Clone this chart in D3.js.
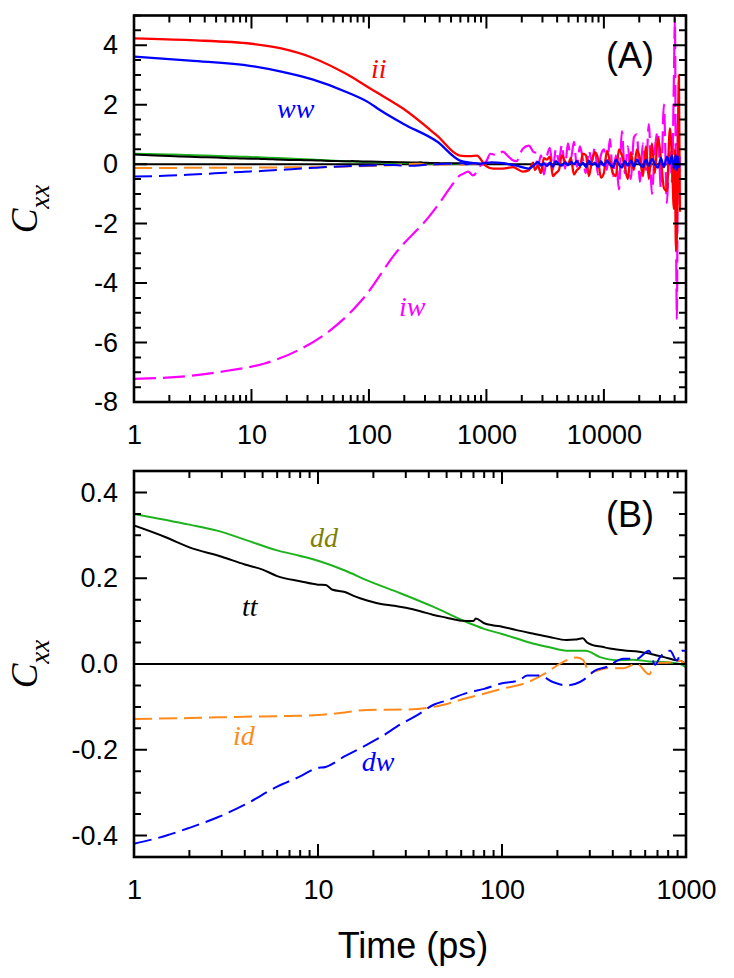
<!DOCTYPE html>
<html><head><meta charset="utf-8">
<script src="https://cdn.jsdelivr.net/npm/d3@7"></script>
<style>body{margin:0;background:#fff}</style>
</head><body>
<svg id="c" width="734" height="978"></svg>
<script>
// ---------------- DATA ----------------
const ttT = [1,1.5,2,3,4,5,6,8,10,11,12,14,16,18.5,22,26,30,36,42,50,60,70,72,80,90,100,120,147,181,224,250,275,290,311,350,385,430,476,530,584,640,695,760,853,950,1000];
const ttV = [0.323,0.295,0.272,0.250,0.232,0.220,0.205,0.193,0.185,0.184,0.173,0.168,0.157,0.148,0.140,0.136,0.131,0.123,0.115,0.108,0.101,0.100,0.106,0.095,0.090,0.087,0.079,0.071,0.063,0.056,0.057,0.060,0.050,0.044,0.040,0.036,0.033,0.031,0.030,0.027,0.024,0.020,0.016,0.010,0.006,-0.002];
const ddT = [1,2,2.83,4,6,8,9.8,14,18.5,28,42.5,64,80,100,147,181,224,285,341,420,515,630,790,930,1000];
const ddV = [0.350,0.325,0.311,0.290,0.265,0.252,0.242,0.218,0.195,0.165,0.133,0.098,0.082,0.070,0.048,0.039,0.031,0.031,0.016,0.009,0.010,0.006,0.004,0.000,-0.008];
const idT = [1,2,4,7,10,14,18.5,30,42.5,64,100,137,175,207,254,275,300,370,457,540,630,680,720,790,930,1000];
const idV = [-0.128,-0.126,-0.123,-0.121,-0.119,-0.113,-0.107,-0.106,-0.100,-0.080,-0.058,-0.043,-0.020,0.001,0.015,0.010,-0.020,-0.010,-0.010,0.001,-0.024,0.001,0.003,0.003,0.007,-0.002];
const dwT = [1,1.5,2,2.83,4,6,8,9.8,11,14,18.5,22,28,35,42.5,50,64,80,100,124,137,160,189,224,265,290,318,370,457,540,630,680,720,820,890,950,1000];
const dwV = [-0.419,-0.400,-0.382,-0.358,-0.328,-0.286,-0.262,-0.243,-0.240,-0.215,-0.188,-0.170,-0.141,-0.118,-0.095,-0.085,-0.068,-0.058,-0.045,-0.038,-0.027,-0.027,-0.042,-0.050,-0.042,-0.031,-0.016,-0.007,0.012,0.012,0.031,-0.002,0.015,0.031,0.008,0.031,0.031];

const iiT = [1,3,10,17.5,33,65,100,124,195,380,595,726,830,980,1140,1380,1680,2040,2300,2500];
const iiV = [4.23,4.17,4.05,3.90,3.58,3.02,2.57,2.35,1.87,0.96,0.29,0.27,0.29,-0.05,-0.15,-0.15,-0.10,-0.25,-0.20,0.05];
const wwT = [1,3,10,17.5,33,65,100,124,195,380,595,726,900,1100,1400,1800,2300];
const wwV = [3.62,3.48,3.30,3.12,2.85,2.42,2.07,1.82,1.36,0.76,0.12,0.05,0.02,0.06,0.03,-0.05,-0.15];
const iwT = [1,3,6.2,12.5,24.4,46.5,89,172,330,425,490,595,630,700,770,890,1000,1080,1230,1380,1500,1650,1800,2040,2300,2550];
const iwV = [-7.22,-7.12,-6.95,-6.72,-6.28,-5.60,-4.53,-2.95,-1.73,-1.15,-0.80,-0.38,-0.33,-0.25,-0.38,-0.05,0.10,0.35,0.30,0.42,0.30,0.15,0.10,0.52,0.62,0.40];

const noiseT = [2590,2743,2910,3085,3270,3470,3680,3900,4140,4390,4660,4940,5240,5560,5890,6250,6630,7030,7450,7910,8380,8890,9430,10000,10600,11250,11930,12650,13420,14230,15090,16010,16980,18000,19100,20250,21480,22780,24160,25620,27170,28820,30570,32420,34380,36460,37920,39440,40220,41020,41830,42660,43510,44370];
const iiNoise = [-0.2,-0.05,-0.3,0.2,0.15,0.25,-0.4,-0.3,-0.2,0.3,0.1,0.0,0.2,-0.35,-0.2,-0.1,0.35,0.3,-0.4,0.1,0.4,0.2,-0.45,-0.3,0.45,0.1,-0.3,-0.4,0.5,0.3,-0.1,-0.5,0.4,-0.2,0.5,0.2,-0.4,0.6,-0.5,0.7,-0.3,0.9,0.2,-0.8,-0.9,1.2,0.2,-1.5,0.5,-2.9,-2.4,0.8,3.0,-1.6];
const wwNoise = [0.0,0.08,-0.05,0.03,-0.06,0.05,-0.08,0.1,0.0,-0.05,0.06,-0.04,0.08,0.0,0.1,-0.05,0.05,-0.1,0.12,-0.03,0.05,-0.1,0.1,-0.05,0.12,0.0,-0.1,0.15,0.0,-0.12,0.1,-0.05,0.12,-0.08,0.15,0.0,-0.1,0.15,-0.05,0.18,0.0,-0.12,0.2,-0.1,0.25,0.0,0.3,-0.15,0.1,0.3,-0.2,0.25,-0.1,0.05];
const iwNoise = [0.4,-0.1,0.3,-0.35,0.25,0.55,-0.2,0.5,0.1,0.65,-0.15,0.7,0.2,0.75,-0.1,0.6,0.15,-0.3,0.45,0.1,0.55,-0.35,0.3,0.5,-0.2,0.85,-0.4,0.3,-0.85,1.1,-0.3,0.6,-0.5,0.9,1.0,-0.6,0.7,-0.2,1.35,-1.0,0.5,1.1,-0.8,2.0,-1.3,1.0,-0.6,2.9,4.9,-1.5,-5.2,1.5,-0.5,0.3];

const xTicksA = [1,10,100,1000,10000];
const yTicksA = [-8,-6,-4,-2,0,2,4];
const xTicksB = [1,10,100,1000];
const yTicksB = [-0.4,-0.2,0,0.2,0.4];

const labelsA = [
  {text:"ii", t:104, v:2.9, color:"#ff0000"},
  {text:"ww", t:16.5, v:1.55, color:"#0000ff"},
  {text:"iw", t:180, v:-5.1, color:"#ff00ff"}
];
const labelsB = [
  {text:"dd", t:9.05, v:0.273, color:"#808000"},
  {text:"tt", t:3.86, v:0.112, color:"#000000"},
  {text:"id", t:3.45, v:-0.189, color:"#ff8a1c"},
  {text:"dw", t:17.3, v:-0.249, color:"#0000ff"}
];

// ---------------- DRAW ----------------
const svg = d3.select("#c");
const C = {red:"#ff0000", blue:"#0000ff", mag:"#ff00ff", green:"#1db31d", orange:"#ff8a1c", black:"#000000"};
const DASH = "18,7";

const xA = d3.scaleLog().domain([1,50000]).range([134,686]);
const yA = d3.scaleLinear().domain([-8,5]).range([402,15.5]);
const xB = d3.scaleLog().domain([1,1000]).range([134,686]);
const yB = d3.scaleLinear().domain([-0.45,0.45]).range([857,471]);

function zipTV(T,V){ return T.map((t,i)=>[t,V[i]]); }
function minorLog(sc){
  const dom = sc.domain(); const out=[];
  for(let d=dom[0]; d<dom[1]; d*=10) for(let k=2;k<=9;k++){ const v=d*k; if(v<=dom[1]*1.0001) out.push(v); }
  return out;
}

const tickLayer = [];

function panel(id, xs, ys, series, xMajor, yMajor, yMinorStep, yFmt){
  const xr = xs.range(), yr = ys.range();
  const L = xr[0], R = xr[1], B = yr[0], T = yr[1];
  const g = svg.append("g");
  const defs = svg.append("defs");
  defs.append("clipPath").attr("id","clip"+id).append("rect")
    .attr("x",L).attr("y",T).attr("width",R-L).attr("height",B-T);
  const plot = g.append("g").attr("clip-path",`url(#clip${id})`);
  plot.append("line").attr("x1",L).attr("x2",R).attr("y1",ys(0)).attr("y2",ys(0))
    .attr("stroke","#000").attr("stroke-width",2);
  const lineGen = d3.line().x(d=>xs(d[0])).y(d=>ys(d[1])).curve(d3.curveMonotoneX);
  series.forEach(s=>{
    plot.append("path").attr("d",lineGen(s.data)).attr("fill","none")
      .attr("stroke",s.color).attr("stroke-width",s.w||2)
      .attr("stroke-dasharray",s.dash||null).attr("stroke-linejoin","round");
  });
  const xMinor = minorLog(xs);
  const yd = ys.domain();
  const yMinor = d3.range(Math.ceil(yd[0]/yMinorStep-1e-9), Math.floor(yd[1]/yMinorStep+1e-9)+1).map(k=>+(k*yMinorStep).toFixed(4));
  xMajor.forEach(v=>{ const p=xs(v); tickLayer.push([p,B,p,B-13],[p,T,p,T+13]); });
  xMinor.forEach(v=>{ const p=xs(v); tickLayer.push([p,B,p,B-7],[p,T,p,T+7]); });
  yMajor.forEach(v=>{ const p=ys(v); tickLayer.push([L,p,L+13,p],[R,p,R-13,p]); });
  yMinor.filter(v=>!yMajor.some(m=>Math.abs(m-v)<1e-9)).forEach(v=>{ const p=ys(v); tickLayer.push([L,p,L+7,p],[R,p,R-7,p]); });
  const ax = g.append("g");
  ax.append("g").attr("transform",`translate(0,${B})`)
    .call(d3.axisBottom(xs).tickValues(xMajor).tickSize(0).tickPadding(23).tickFormat(d=>String(d)));
  ax.append("g").attr("transform",`translate(${L},0)`)
    .call(d3.axisLeft(ys).tickValues(yMajor).tickSize(0).tickPadding(16).tickFormat(yFmt));
  ax.selectAll(".domain").remove();
  ax.selectAll("g").attr("font-size",27).attr("font-family","'Liberation Sans', Arial, sans-serif");
  ax.selectAll(".tick text").attr("fill","#000");
  g.append("rect").attr("x",L).attr("y",T).attr("width",R-L).attr("height",B-T)
    .attr("fill","none").attr("stroke","#000").attr("stroke-width",2.6);
}

const small = ()=>[
  {data:zipTV(ddT,ddV), color:C.green},
  {data:zipTV(ttT,ttV), color:C.black},
  {data:zipTV(idT,idV), color:C.orange, dash:DASH},
  {data:zipTV(dwT,dwV), color:C.blue, dash:DASH}
];
const seriesA = small().concat([
  {data:zipTV(iwT.concat(noiseT), iwV.concat(iwNoise)), color:C.mag, dash:"22,7", w:2.2},
  {data:zipTV(iiT.concat(noiseT), iiV.concat(iiNoise)), color:C.red, w:2.3},
  {data:zipTV(wwT.concat(noiseT), wwV.concat(wwNoise)), color:C.blue, w:2.3}
]);
const seriesB = small();

panel("A", xA, yA, seriesA, xTicksA, yTicksA, 0.5, d=>String(d));
panel("B", xB, yB, seriesB, xTicksB, yTicksB, 0.05, d=>d.toFixed(1));

// tick marks as one path, on top
svg.append("path")
  .attr("d", tickLayer.map(s=>`M${s[0]},${s[1]}L${s[2]},${s[3]}`).join(""))
  .attr("fill","none").attr("stroke","#000").attr("stroke-width",2);

function seriesLabels(labels, xs, ys){
  labels.forEach(l=>{
    svg.append("text").attr("x",xs(l.t)).attr("y",ys(l.v)).text(l.text)
      .attr("fill",l.color).attr("font-size",28).attr("font-style","italic")
      .attr("font-family","'Liberation Serif','Times New Roman',serif");
  });
}
seriesLabels(labelsA, xA, yA);
seriesLabels(labelsB, xB, yB);

const sans = "'Liberation Sans', Arial, sans-serif";
svg.append("text").attr("x",630).attr("y",68).attr("text-anchor","middle")
  .attr("font-size",36).attr("font-family",sans).text("(A)");
svg.append("text").attr("x",630).attr("y",527).attr("text-anchor","middle")
  .attr("font-size",36).attr("font-family",sans).text("(B)");

function yTitle(cy){
  const t = svg.append("text").attr("transform",`translate(37,${cy}) rotate(-90)`)
    .attr("text-anchor","middle").attr("font-family","'Liberation Serif','Times New Roman',serif")
    .attr("font-style","italic");
  t.append("tspan").attr("font-size",37).text("C");
  t.append("tspan").attr("font-size",27).attr("dy",12).text("xx");
}
yTitle(209);
yTitle(664);
svg.append("text").attr("x",413).attr("y",958).attr("text-anchor","middle")
  .attr("font-size",36).attr("font-family",sans).text("Time (ps)");
</script>
</body></html>
